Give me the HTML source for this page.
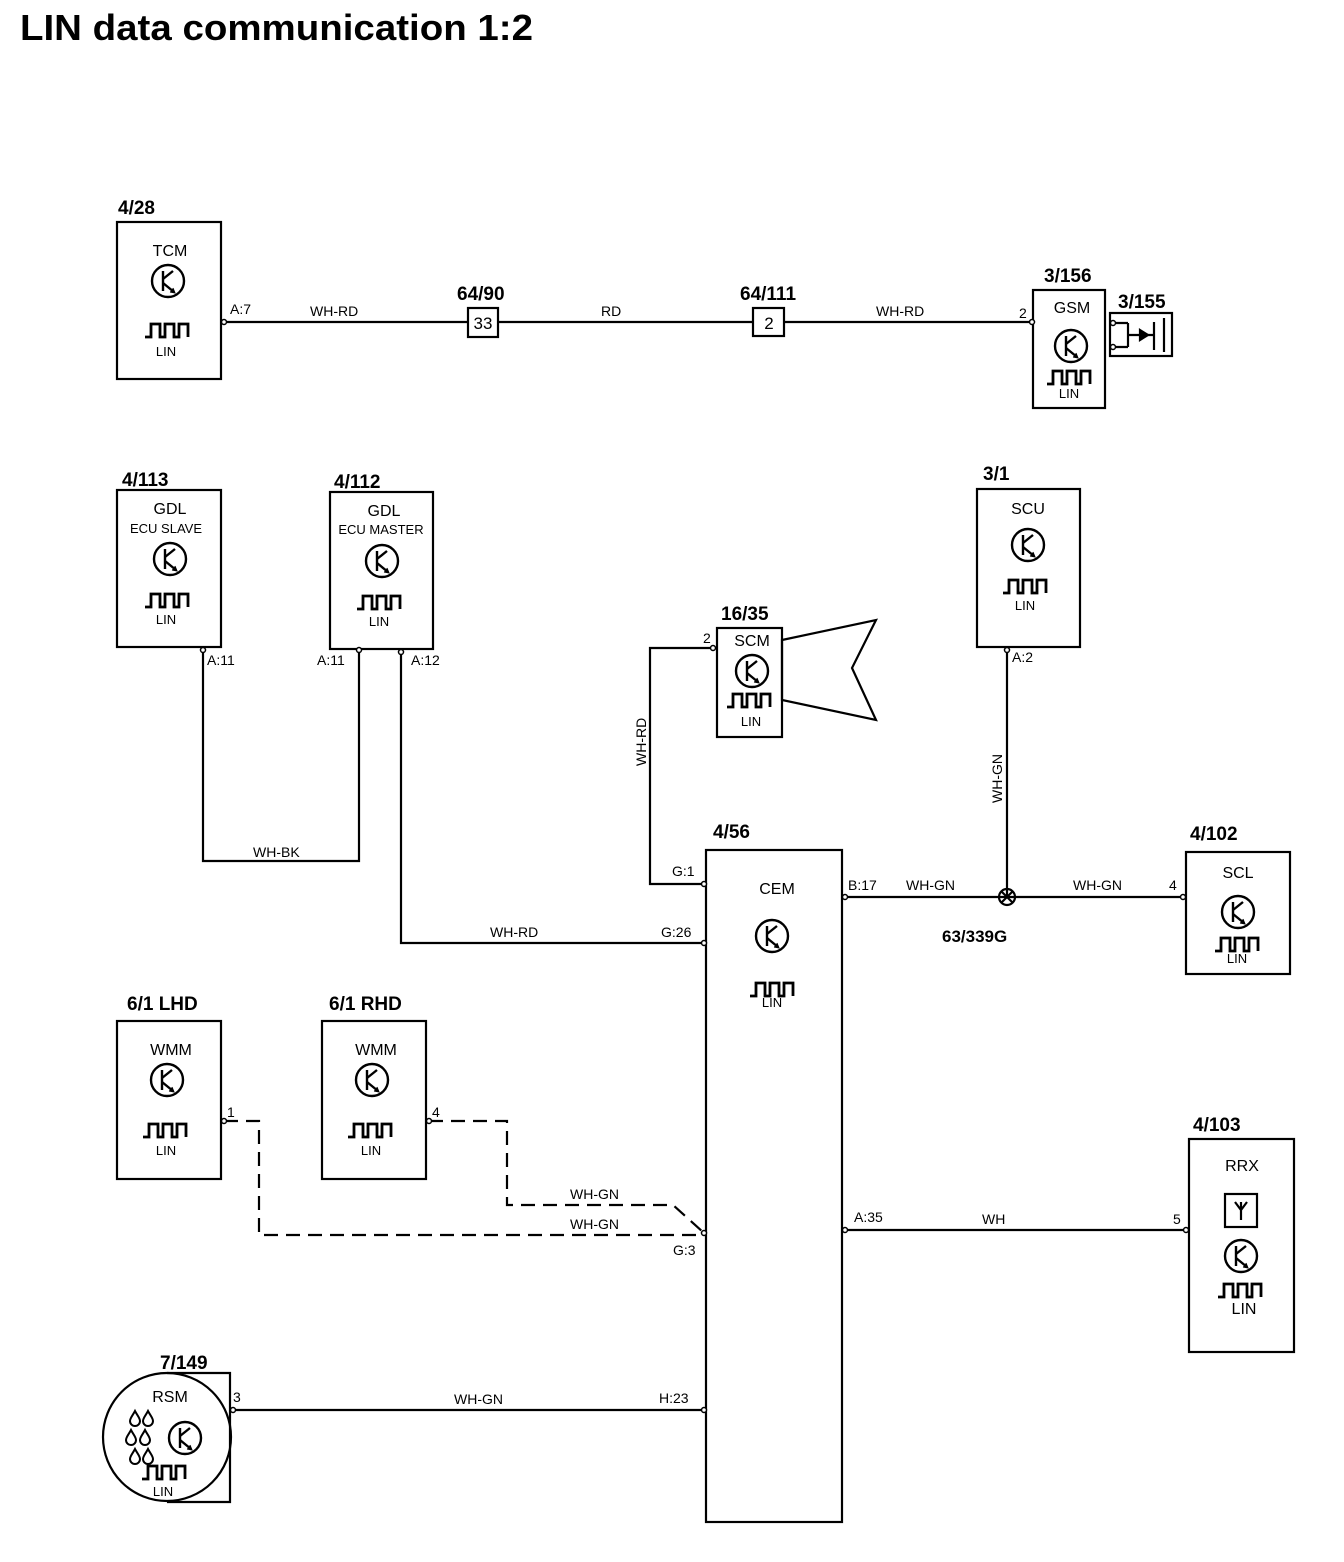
<!DOCTYPE html>
<html><head><meta charset="utf-8"><style>
html,body{margin:0;padding:0;background:#fff}
svg{display:block}
text{font-family:"Liberation Sans",Arial,sans-serif;fill:#000}
.lb{font-weight:bold;font-size:19px}
.n{font-size:16px}
.s{font-size:13px}
.p{font-size:14px}
</style></head><body>
<svg width="1344" height="1562" viewBox="0 0 1344 1562" xmlns="http://www.w3.org/2000/svg">
<defs>
<g id="tr" fill="none" stroke="#000" stroke-width="2.4">
<circle r="16"/>
<line x1="-5" y1="-10" x2="-5" y2="10"/>
<line x1="-5" y1="-2" x2="5" y2="-10"/>
<line x1="-5" y1="2" x2="6" y2="11"/>
<path d="M2,11 L7,12 L5,7" fill="#000" stroke-width="1"/>
</g>
<path id="pu" d="M-23,7 h6 v-13 h9 v13 h5 v-13 h9 v13 h5 v-13 h9 v13" fill="none" stroke="#000" stroke-width="2.8"/>
<path id="dr" d="M0,-7 C-2,-3 -5,0 -5,3 A5,5 0 0 0 5,3 C5,0 2,-3 0,-7 Z" fill="none" stroke="#000" stroke-width="2"/>
<circle id="pin" r="2.5" fill="#fff" stroke="#000" stroke-width="1.5"/>
</defs>
<text x="20" y="40" textLength="513" lengthAdjust="spacingAndGlyphs" style="font-weight:bold;font-size:36px">LIN data communication 1:2</text>

<g fill="none" stroke="#000" stroke-width="2.2">
<rect x="117" y="222" width="104" height="157"/>
<rect x="1033" y="290" width="72" height="118"/>
<rect x="1110" y="313" width="62" height="43"/>
<rect x="117" y="490" width="104" height="157"/>
<rect x="330" y="492" width="103" height="157"/>
<rect x="717" y="628" width="65" height="109"/>
<rect x="977" y="489" width="103" height="158"/>
<rect x="706" y="850" width="136" height="672"/>
<rect x="1186" y="852" width="104" height="122"/>
<rect x="1189" y="1139" width="105" height="213"/>
<rect x="1225" y="1194" width="32" height="33"/>
<rect x="117" y="1021" width="104" height="158"/>
<rect x="322" y="1021" width="104" height="158"/>
<rect x="468" y="308" width="30" height="29"/>
<rect x="753" y="308" width="31" height="28"/>
<path d="M167,1373 H230 V1502 H167"/>
<circle cx="167" cy="1437" r="64"/>
<polygon points="782,640 876,620 852,668 876,720 782,700"/>
<path d="M224,322 H468 M498,322 H753 M784,322 H1032"/>
<path d="M203,650 V861 H359 V652"/>
<path d="M401,652 V943 H704"/>
<path d="M713,648 H650 V884 H704"/>
<path d="M1007,650 V897 M845,897 H1183"/>
<path d="M845,1230 H1186"/>
<path d="M233,1410 H704"/>
<path d="M224,1121 H259 V1235 H704 M429,1121 H507 V1205 H673 L704,1233" stroke-dasharray="14,8"/>
<path d="M1116,323 H1128 M1116,347 H1128 M1128,323 V347 M1128,335 H1154 M1154,322 V350 M1164,318 V352"/>
<path d="M1140,330 L1148,335 L1140,340 Z" fill="#000"/>
<circle cx="1007" cy="897" r="8"/>
<path d="M1001,891 L1013,903 M1013,891 L1001,903"/>
<path d="M1241,1202 V1220 M1235,1202 L1241,1210 L1247,1202"/>
</g>
<g>
<use href="#pin" x="224" y="322"/><use href="#pin" x="1032" y="322"/>
<use href="#pin" x="1113" y="323"/><use href="#pin" x="1113" y="347"/>
<use href="#pin" x="203" y="650"/><use href="#pin" x="359" y="650"/><use href="#pin" x="401" y="652"/>
<use href="#pin" x="713" y="648"/><use href="#pin" x="1007" y="650"/>
<use href="#pin" x="704" y="884"/><use href="#pin" x="704" y="943"/><use href="#pin" x="704" y="1233"/><use href="#pin" x="704" y="1410"/>
<use href="#pin" x="845" y="897"/><use href="#pin" x="845" y="1230"/>
<use href="#pin" x="1183" y="897"/><use href="#pin" x="1186" y="1230"/>
<use href="#pin" x="224" y="1121"/><use href="#pin" x="429" y="1121"/><use href="#pin" x="233" y="1410"/>
</g>
<use href="#tr" x="168" y="281"/><use href="#pu" x="168" y="330"/>
<use href="#tr" x="1071" y="346"/><use href="#pu" x="1070" y="377"/>
<use href="#tr" x="170" y="559"/><use href="#pu" x="168" y="600"/>
<use href="#tr" x="382" y="561"/><use href="#pu" x="380" y="602"/>
<use href="#tr" x="752" y="671"/><use href="#pu" x="750" y="700"/>
<use href="#tr" x="1028" y="545"/><use href="#pu" x="1026" y="586"/>
<use href="#tr" x="772" y="936"/><use href="#pu" x="773" y="989"/>
<use href="#tr" x="1238" y="912"/><use href="#pu" x="1238" y="944"/>
<use href="#tr" x="1241" y="1256"/><use href="#pu" x="1241" y="1290"/>
<use href="#tr" x="167" y="1080"/><use href="#pu" x="166" y="1130"/>
<use href="#tr" x="372" y="1080"/><use href="#pu" x="371" y="1130"/>
<use href="#tr" x="185" y="1438"/><use href="#pu" x="165" y="1472"/>
<use href="#dr" x="135" y="1418"/><use href="#dr" x="148" y="1418"/>
<use href="#dr" x="131" y="1437"/><use href="#dr" x="145" y="1437"/>
<use href="#dr" x="135" y="1456"/><use href="#dr" x="148" y="1456"/>
<g class="lb">
<text x="118" y="214" class="lb">4/28</text>
<text x="457" y="300" class="lb">64/90</text>
<text x="740" y="300" class="lb">64/111</text>
<text x="1044" y="282" class="lb">3/156</text>
<text x="1118" y="308" class="lb">3/155</text>
<text x="122" y="486" class="lb">4/113</text>
<text x="334" y="488" class="lb">4/112</text>
<text x="721" y="620" class="lb">16/35</text>
<text x="983" y="480" class="lb">3/1</text>
<text x="713" y="838" class="lb">4/56</text>
<text x="1190" y="840" class="lb">4/102</text>
<text x="1193" y="1131" class="lb">4/103</text>
<text x="942" y="942" class="lb" style="font-size:17px">63/339G</text>
<text x="127" y="1010" class="lb">6/1 LHD</text>
<text x="329" y="1010" class="lb">6/1 RHD</text>
<text x="160" y="1369" class="lb">7/149</text>
</g>
<g class="n" text-anchor="middle">
<text x="170" y="256">TCM</text><text x="1072" y="313">GSM</text>
<text x="170" y="514">GDL</text><text x="384" y="516">GDL</text>
<text x="752" y="646">SCM</text><text x="1028" y="514">SCU</text>
<text x="777" y="894">CEM</text><text x="1238" y="878">SCL</text>
<text x="1242" y="1171">RRX</text>
<text x="171" y="1055">WMM</text><text x="376" y="1055">WMM</text>
<text x="170" y="1402">RSM</text>
<text x="483" y="329" style="font-size:17px">33</text>
<text x="769" y="329" style="font-size:17px">2</text>
<text x="1244" y="1314">LIN</text>
</g>
<g class="s" text-anchor="middle">
<text x="166" y="356">LIN</text><text x="1069" y="398">LIN</text>
<text x="166" y="533">ECU SLAVE</text><text x="381" y="534">ECU MASTER</text>
<text x="166" y="624">LIN</text><text x="379" y="626">LIN</text>
<text x="751" y="726">LIN</text><text x="1025" y="610">LIN</text>
<text x="772" y="1007">LIN</text><text x="1237" y="963">LIN</text>
<text x="166" y="1155">LIN</text><text x="371" y="1155">LIN</text>
<text x="163" y="1496">LIN</text>
</g>
<g class="p">
<text x="230" y="314">A:7</text>
<text x="310" y="316">WH-RD</text><text x="601" y="316">RD</text><text x="876" y="316">WH-RD</text>
<text x="1019" y="318">2</text>
<text x="207" y="665">A:11</text><text x="317" y="665">A:11</text><text x="411" y="665">A:12</text>
<text x="703" y="643">2</text><text x="1012" y="662">A:2</text>
<text x="253" y="857">WH-BK</text>
<text x="490" y="937">WH-RD</text><text x="661" y="937">G:26</text>
<text x="672" y="876">G:1</text>
<text x="848" y="890">B:17</text><text x="906" y="890">WH-GN</text><text x="1073" y="890">WH-GN</text>
<text x="1169" y="890">4</text>
<text x="854" y="1222">A:35</text><text x="982" y="1224">WH</text><text x="1173" y="1224">5</text>
<text x="227" y="1117">1</text><text x="432" y="1117">4</text>
<text x="570" y="1199">WH-GN</text><text x="570" y="1229">WH-GN</text>
<text x="673" y="1255">G:3</text>
<text x="233" y="1402">3</text><text x="454" y="1404">WH-GN</text><text x="659" y="1403">H:23</text>
<text transform="translate(646,766) rotate(-90)">WH-RD</text>
<text transform="translate(1002,803) rotate(-90)">WH-GN</text>
</g>
</svg>
</body></html>
